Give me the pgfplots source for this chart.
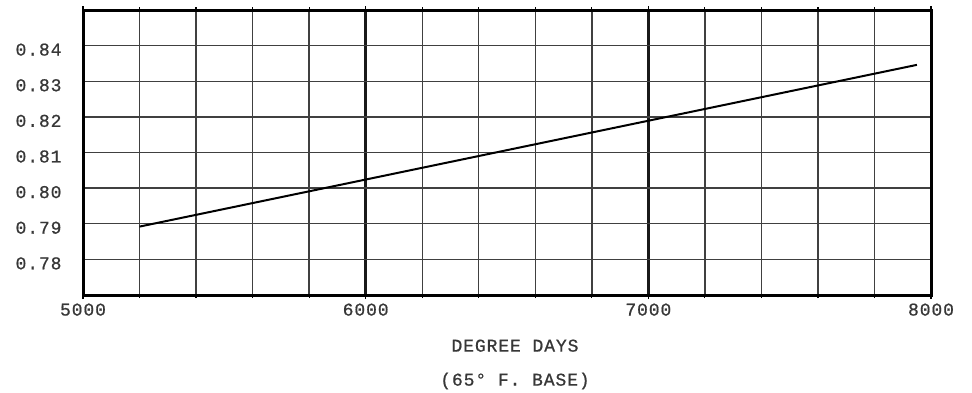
\documentclass[border=0pt]{standalone}
\usepackage{fontspec}
\setmainfont{Liberation Mono}[LetterSpace=5, FakeBold=0.8]
\usepackage{pgfplots}
\pgfplotsset{compat=1.18}
\definecolor{txt}{RGB}{55,55,55}
\begin{document}
\begin{tikzpicture}[x=1bp,y=1bp]
\useasboundingbox (0,0) rectangle (972,392);
\begin{axis}[
  at={(83bp,97bp)}, anchor=south west,
  width=848bp, height=285bp, scale only axis,
  xmin=5000, xmax=8000, ymin=0.77, ymax=0.85,
  xtick={5000,6000,7000,8000},
  xticklabels={5000,6000,7000,8000},
  minor xtick={5200,5400,5600,5800,6200,6400,6600,6800,7200,7400,7600,7800},
  ytick={0.78,0.79,0.80,0.81,0.82,0.83,0.84},
  yticklabels={0.78,0.79,0.80,0.81,0.82,0.83,0.84},
  font=\fontsize{18bp}{20bp}\selectfont,
  ticklabel style={text=txt},
  xtick align=outside,
  ytick style={draw=none},
  major tick length=4bp, minor tick length=3bp,
  xtick style={line width=1.2bp, black},
  yticklabel style={xshift=-18bp, yshift=-4bp},
  xticklabel style={yshift=-1bp},
  xmajorgrids, xminorgrids, ymajorgrids,
  major x grid style={line width=2.6bp, black!90},
  minor x grid style={line width=1.4bp, black!75},
  major y grid style={line width=1.4bp, black!75},
  axis line style={line width=3bp, black},
  xlabel={DEGREE DAYS\\[14bp](65° F. BASE)},
  xlabel style={align=center, text=txt, yshift=-17bp, xshift=8bp},
]
\addplot[black, line width=2bp] coordinates {(5200,0.7892) (7950,0.8346)};
\end{axis}
\end{tikzpicture}
\end{document}
